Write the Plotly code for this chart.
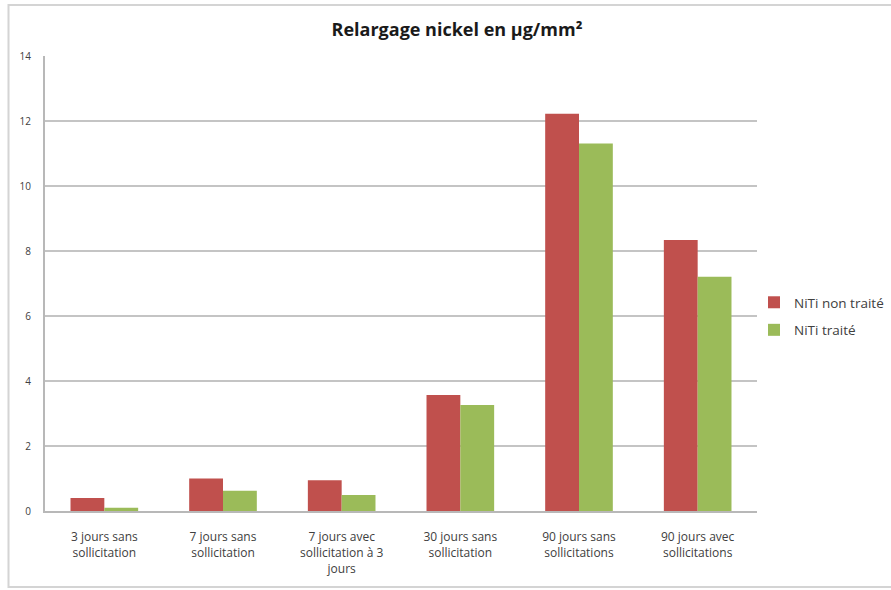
import plotly.graph_objects as go

categories = [
    "3 jours sans<br>sollicitation",
    "7 jours sans<br>sollicitation",
    "7 jours avec<br>sollicitation à 3<br>jours",
    "30 jours sans<br>sollicitation",
    "90 jours sans<br>sollicitations",
    "90 jours avec<br>sollicitations",
]
non_traite = [0.40, 1.00, 0.95, 3.57, 12.22, 8.34]
traite = [0.10, 0.62, 0.49, 3.26, 11.31, 7.21]
y_ticks = [0, 2, 4, 6, 8, 10, 12, 14]

W, H = 891, 590
L, R, T, B = 45, 757, 56, 511

fig = go.Figure()
fig.add_trace(go.Bar(x=categories, y=non_traite, name="NiTi non traité",
                     legendgroup="a",
                     marker=dict(color="#c0504d", line=dict(width=0))))
fig.add_trace(go.Bar(x=categories, y=traite, name="NiTi traité",
                     legendgroup="b",
                     marker=dict(color="#9bbb59", line=dict(width=0))))

def px_x(p):
    return (p - L) / (R - L)

def px_y(p):
    return (B - p) / (B - T)

# outer chart frame
fig.add_shape(type="rect", xref="paper", yref="paper",
              x0=px_x(8.5), x1=px_x(895), y0=px_y(587), y1=px_y(5),
              line=dict(color="#d4d4d4", width=2), fillcolor="rgba(0,0,0,0)",
              layer="below")

fig.update_layout(
    width=W, height=H,
    margin=dict(l=L, r=W - R, t=T, b=H - B, autoexpand=False),
    paper_bgcolor="white", plot_bgcolor="white",
    barmode="group", bargap=0.43, bargroupgap=0,
    title=dict(text="<b>Relargage nickel en µg/mm²</b>", x=457 / W, xanchor="center",
               xref="container", y=1 - 30 / H, yanchor="middle",
               font=dict(family="Open Sans", size=18, color="#1a1a1a")),
    font=dict(family="Open Sans", color="#404040"),
    xaxis=dict(showgrid=False, showline=True, linecolor="#b8b8b8", linewidth=2,
               ticks="", ticklabelstandoff=14,
               tickfont=dict(size=12, color="#404040")),
    yaxis=dict(range=[0, 14], tickvals=y_ticks, showgrid=True,
               gridcolor="#c4c4c4", gridwidth=1.5, showline=True,
               linecolor="#b8b8b8", linewidth=2, zeroline=False,
               ticks="", ticklen=0, ticklabelstandoff=10,
               tickfont=dict(size=10, color="#404040")),
    legend=dict(x=px_x(754), y=px_y(287), xanchor="left", yanchor="top",
                font=dict(size=13.5, color="#404040"), itemwidth=30,
                tracegroupgap=7, bgcolor="rgba(0,0,0,0)"),
    showlegend=True,
)

fig.write_html("out.html")
